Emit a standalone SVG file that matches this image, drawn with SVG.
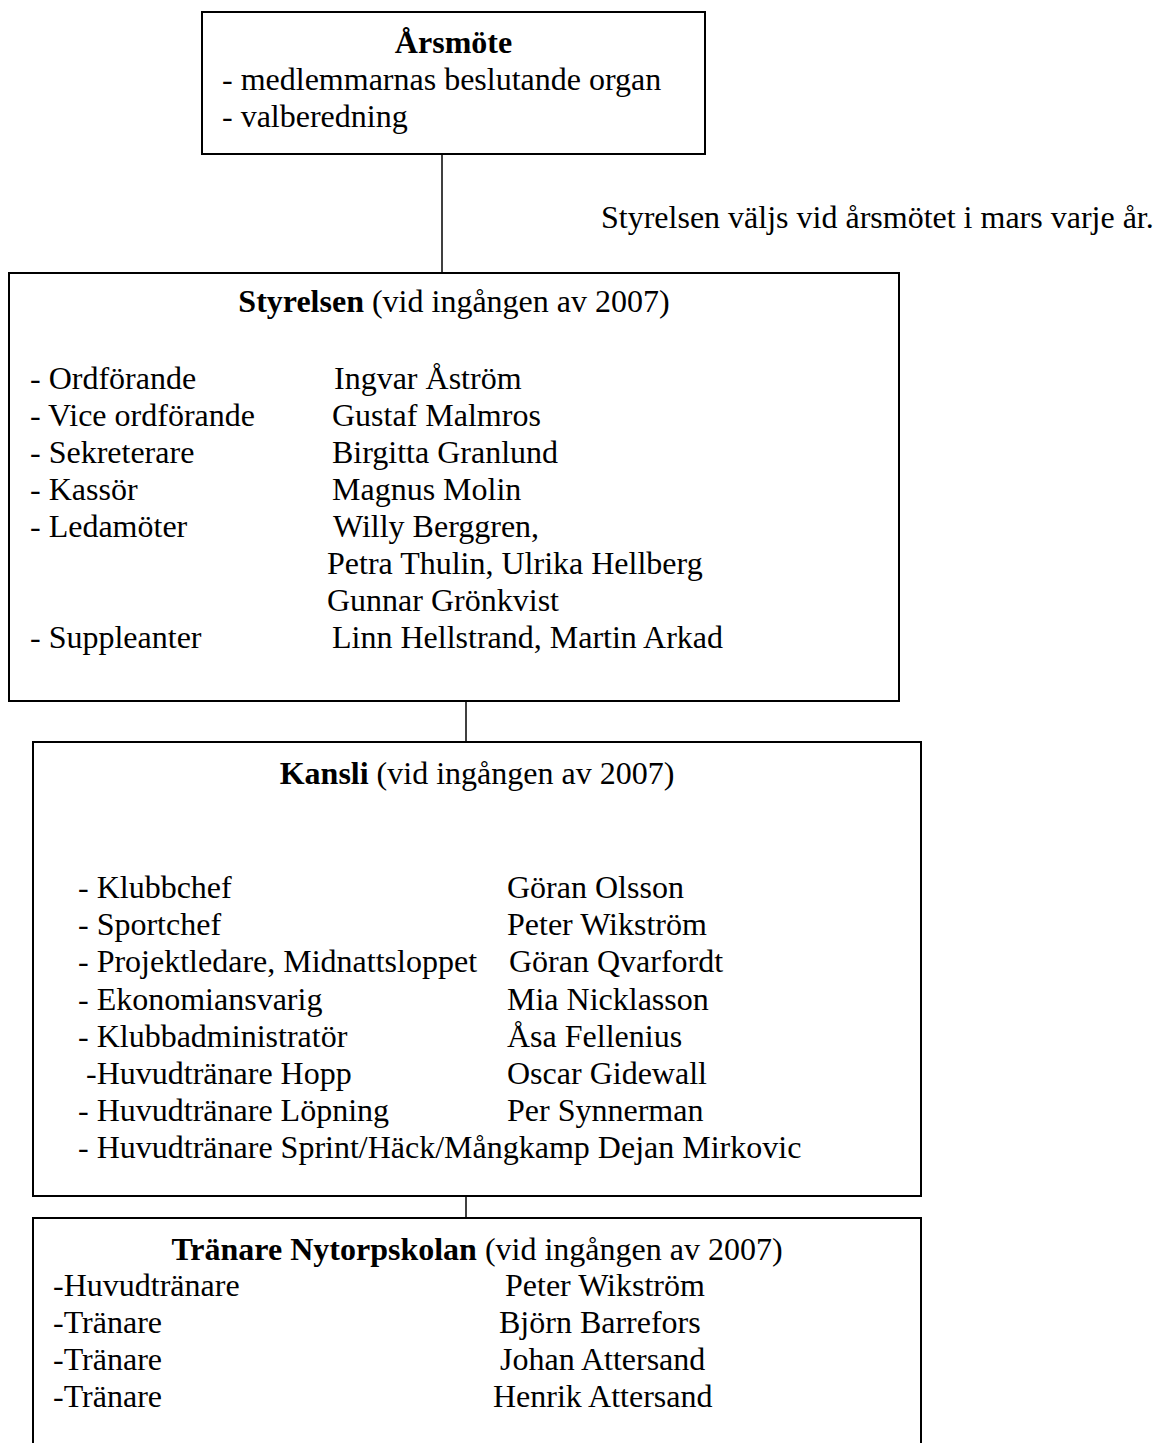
<svg xmlns="http://www.w3.org/2000/svg" width="1164" height="1443" viewBox="0 0 1164 1443">
<style>
text{font-family:"Liberation Serif","Times New Roman",serif;font-size:32px;fill:#000}
.b{font-weight:bold}
.c{text-anchor:middle}
.box{fill:none;stroke:#000;stroke-width:2}
.ln{fill:none;stroke:#000;stroke-width:1.5}
</style>
<rect width="1164" height="1443" fill="#fff"/>
<g id="connectors">
<line class="ln" x1="442" y1="154" x2="442" y2="273"/>
<line class="ln" x1="466" y1="701" x2="466" y2="742"/>
<line class="ln" x1="466" y1="1196" x2="466" y2="1218"/>
</g>
<g id="arsmote">
<rect class="box" x="202" y="12" width="503" height="142"/>
<text class="b c" x="453.5" y="53">Årsmöte</text>
<text x="222" y="90">- medlemmarnas beslutande organ</text>
<text x="222" y="127">- valberedning</text>
</g>
<g id="note">
<text x="601" y="228">Styrelsen väljs vid årsmötet i mars varje år.</text>
</g>
<g id="styrelsen">
<rect class="box" x="9" y="273" width="890" height="428"/>
<text class="c" x="454" y="312"><tspan class="b">Styrelsen</tspan> (vid ingången av 2007)</text>
<text x="30" y="389">- Ordförande</text><text x="334" y="389">Ingvar Åström</text>
<text x="30" y="426">- Vice ordförande</text><text x="332" y="426">Gustaf Malmros</text>
<text x="30" y="463">- Sekreterare</text><text x="332" y="463">Birgitta Granlund</text>
<text x="30" y="500">- Kassör</text><text x="332" y="500">Magnus Molin</text>
<text x="30" y="537">- Ledamöter</text><text x="333" y="537">Willy Berggren,</text>
<text x="327" y="574">Petra Thulin, Ulrika Hellberg</text>
<text x="327" y="611">Gunnar Grönkvist</text>
<text x="30" y="648">- Suppleanter</text><text x="332" y="648">Linn Hellstrand, Martin Arkad</text>
</g>
<g id="kansli">
<rect class="box" x="33" y="742" width="888" height="454"/>
<text class="c" x="477" y="784"><tspan class="b">Kansli</tspan> (vid ingången av 2007)</text>
<text x="78" y="898">- Klubbchef</text><text x="507" y="898">Göran Olsson</text>
<text x="78" y="935">- Sportchef</text><text x="507" y="935">Peter Wikström</text>
<text x="78" y="972">- Projektledare, Midnattsloppet</text><text x="509" y="972">Göran Qvarfordt</text>
<text x="78" y="1010">- Ekonomiansvarig</text><text x="507" y="1010">Mia Nicklasson</text>
<text x="78" y="1047">- Klubbadministratör</text><text x="507" y="1047">Åsa Fellenius</text>
<text x="86" y="1084">-Huvudtränare Hopp</text><text x="507" y="1084">Oscar Gidewall</text>
<text x="78" y="1121">- Huvudtränare Löpning</text><text x="507" y="1121">Per Synnerman</text>
<text x="78" y="1158">- Huvudtränare Sprint/Häck/Mångkamp Dejan Mirkovic</text>
</g>
<g id="tranare">
<path class="box" d="M33,1443 V1218 H921 V1443"/>
<text class="c" x="477" y="1260"><tspan class="b">Tränare Nytorpskolan</tspan> (vid ingången av 2007)</text>
<text x="53" y="1296">-Huvudtränare</text><text x="505" y="1296">Peter Wikström</text>
<text x="53" y="1333">-Tränare</text><text x="499" y="1333">Björn Barrefors</text>
<text x="53" y="1370">-Tränare</text><text x="500" y="1370">Johan Attersand</text>
<text x="53" y="1407">-Tränare</text><text x="493" y="1407">Henrik Attersand</text>
</g>
</svg>
